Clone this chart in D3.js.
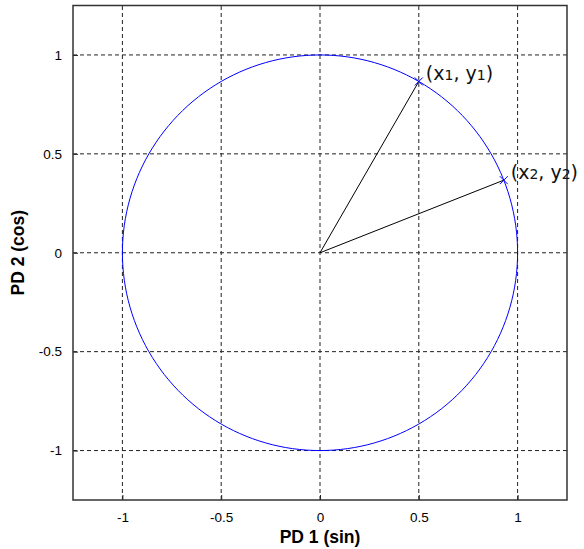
<!DOCTYPE html>
<meta charset="utf-8">
<style>
body {
  margin: 0;
  background: #fff;
}
.grid line {
  stroke: #222;
  stroke-width: 1px;
  stroke-dasharray: 4,3;
}
.frame {
  fill: none;
  stroke: #333;
  stroke-width: 1.5px;
}
.tick text {
  font-family: Arial, "Liberation Sans", sans-serif;
  font-size: 13.5px;
  fill: #000;
}
.label {
  font-family: Arial, "Liberation Sans", sans-serif;
  font-size: 17.5px;
  font-weight: bold;
}
.ptlabel {
  font-family: "DejaVu Sans", sans-serif;
  font-size: 19px;
  fill: #111;
}
</style>
<body>
<script src="https://d3js.org/d3.v7.min.js"></script>
<script>

var width = 584,
    height = 549;

var margin = {left: 73, right: 17, top: 5.5, bottom: 49};

// data
var ticks = [-1, -0.5, 0, 0.5, 1];
var tickLabels = ["-1", "-0.5", "0", "0.5", "1"];
var angles = d3.range(0, 361, 2); // circle sampling, degrees
var pointX = [0.5, 0.93];
var pointY = [0.866, 0.367];
var pointSub = ["1", "2"];

var x = d3.scaleLinear().domain([-1.25, 1.25]).range([margin.left, width - margin.right]);
var y = d3.scaleLinear().domain([-1.25, 1.25]).range([height - margin.bottom, margin.top]);

var svg = d3.select("body").append("svg")
    .attr("width", width)
    .attr("height", height);

// grid
var grid = svg.append("g").attr("class", "grid");
grid.selectAll(".gx").data(ticks).enter().append("line")
    .attr("x1", d => x(d)).attr("x2", d => x(d))
    .attr("y1", y.range()[0]).attr("y2", y.range()[1]);
grid.selectAll(".gy").data(ticks).enter().append("line")
    .attr("y1", d => y(d)).attr("y2", d => y(d))
    .attr("x1", x.range()[0]).attr("x2", x.range()[1]);

// axes (ticks inside like matlab)
var xAxis = d3.axisBottom(x).tickValues(ticks).tickFormat((d, i) => tickLabels[i])
    .tickSizeInner(-5).tickSizeOuter(0).tickPadding(12);
var yAxis = d3.axisLeft(y).tickValues(ticks).tickFormat((d, i) => tickLabels[i])
    .tickSizeInner(-5).tickSizeOuter(0).tickPadding(11);

var gx = svg.append("g").attr("transform", "translate(0," + y.range()[0] + ")").call(xAxis);
var gy = svg.append("g").attr("transform", "translate(" + x.range()[0] + ",0)").call(yAxis);
svg.selectAll(".domain").remove();
svg.selectAll(".tick line").attr("stroke", "#222");

svg.append("rect").attr("class", "frame")
    .attr("x", x.range()[0]).attr("y", y.range()[1])
    .attr("width", x.range()[1] - x.range()[0])
    .attr("height", y.range()[0] - y.range()[1]);

// unit circle
var line = d3.line()
    .x(d => x(Math.sin(d * Math.PI / 180)))
    .y(d => y(Math.cos(d * Math.PI / 180)));
svg.append("path").datum(angles)
    .attr("d", line)
    .attr("fill", "none")
    .attr("stroke", "#0000ff")
    .attr("stroke-width", 1);

// vectors
pointX.forEach(function(px, i) {
  var py = pointY[i];
  svg.append("line")
      .attr("x1", x(0)).attr("y1", y(0))
      .attr("x2", x(px)).attr("y2", y(py))
      .attr("stroke", "#000").attr("stroke-width", 1);
  var cx = x(px), cy = y(py), s = 4;
  svg.append("path")
      .attr("d", "M" + (cx - s) + "," + (cy - s) + "L" + (cx + s) + "," + (cy + s) +
                 "M" + (cx - s) + "," + (cy + s) + "L" + (cx + s) + "," + (cy - s))
      .attr("stroke", "#0000ff").attr("stroke-width", 1);

  var t = svg.append("text").attr("class", "ptlabel")
      .attr("x", cx + 7).attr("y", cy - 1);
  t.append("tspan").text("(x");
  t.append("tspan").attr("font-size", "14px").text(pointSub[i]);
  t.append("tspan").text(", y");
  t.append("tspan").attr("font-size", "14px").text(pointSub[i]);
  t.append("tspan").text(")");
});

// axis labels
svg.append("text").attr("class", "label")
    .attr("x", x(0)).attr("y", 543)
    .attr("text-anchor", "middle")
    .text("PD 1 (sin)");

svg.append("text").attr("class", "label")
    .attr("transform", "translate(24," + y(0) + ") rotate(-90)")
    .attr("text-anchor", "middle")
    .text("PD 2 (cos)");

</script>
